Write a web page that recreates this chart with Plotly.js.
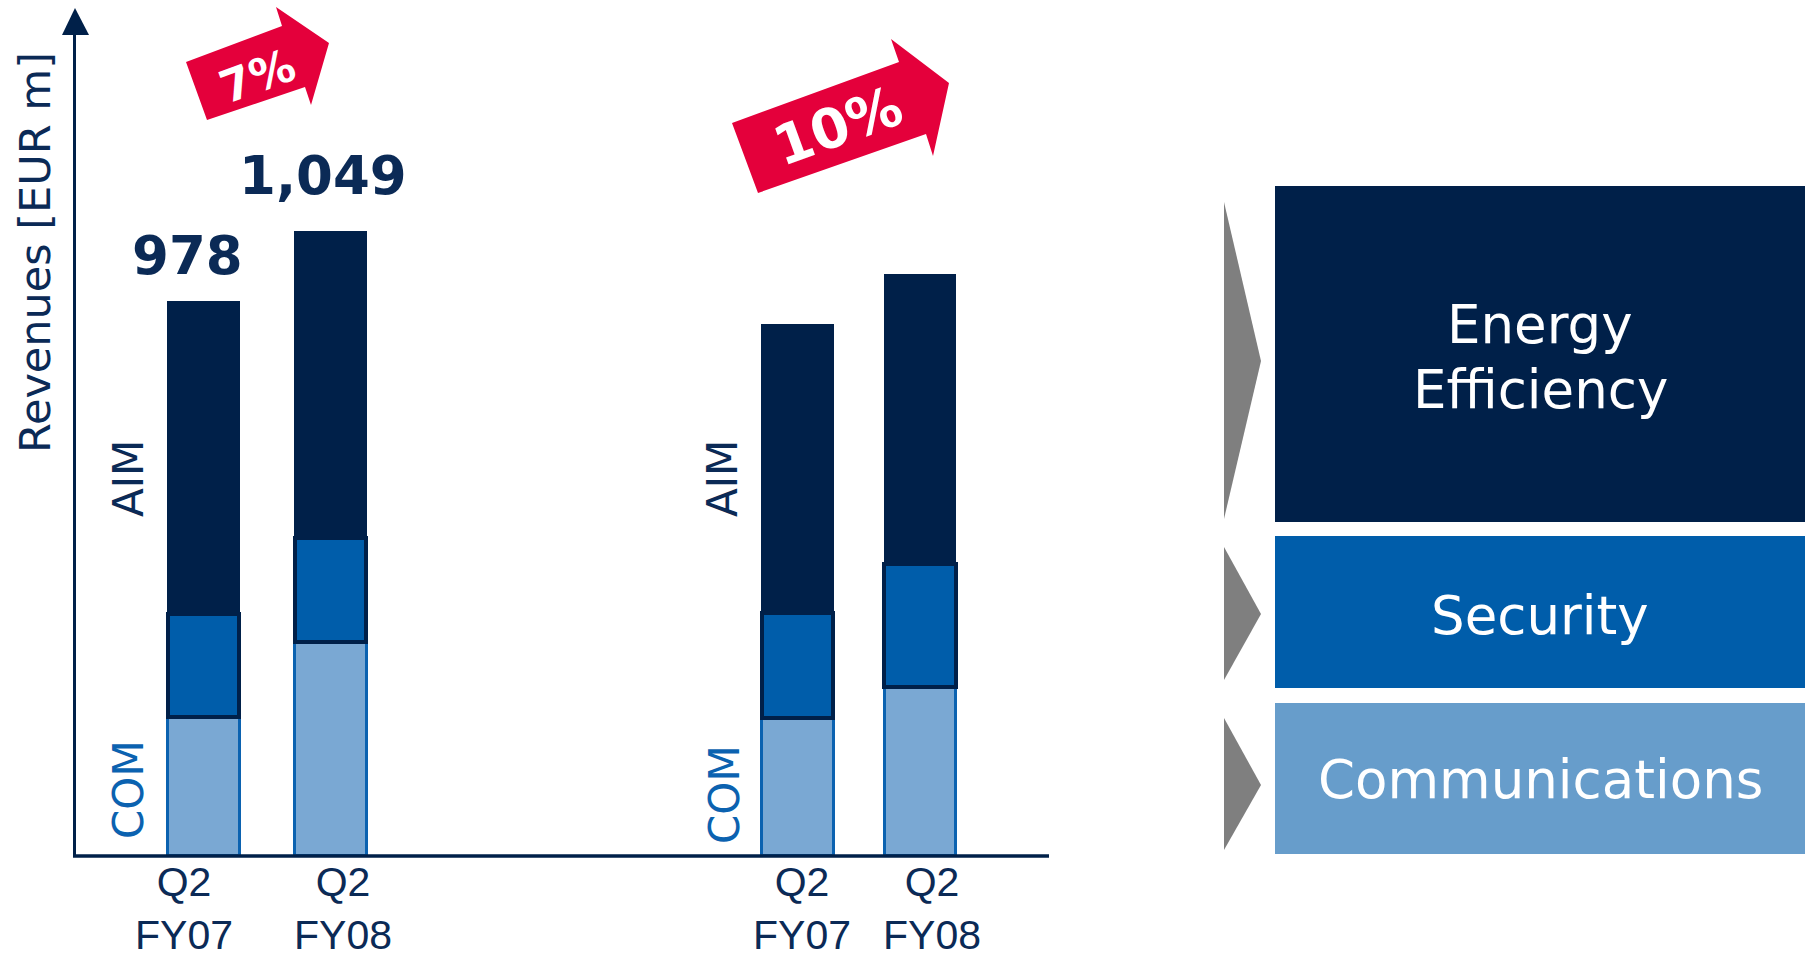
<!DOCTYPE html>
<html>
<head>
<meta charset="utf-8">
<script src="https://cdn.plot.ly/plotly-3.0.1.min.js"></script>
<style>
  html, body { margin: 0; padding: 0; background: #ffffff; }
  #chart { width: 1807px; height: 959px; }
</style>
</head>
<body>
<div id="chart"></div>
<script>
// ---------- data ----------
const categories = ["Q2 FY07", "Q2 FY08"];
const quarterLabels = ["Q2", "Q2"];
const yearLabels = ["FY07", "FY08"];
const group1Com = [244, 377];
const group1Sec = [182, 184];
const group1Aim = [552, 541];
const group2Com = [242, 297];
const group2Sec = [186, 218];
const group2Aim = [509, 511];
const totalLabels = ["978", "1,049"];
const growthLabels = ["7%", "10%"];
const segmentNames = ["Energy", "Efficiency", "Security", "Communications"];
const sideLabels = ["AIM", "COM"];
const axisTitle = "Revenues [EUR m]";

// ---------- styling ----------
const W = 1807, H = 959;
const px = x => x / W;
const py = y => 1 - y / H;
const NAVY = "#002049";
const SEC = "#005daa";
const COMC = "#7aa8d3";
const COMLINE = "#0b62b0";
const TEXTNAVY = "#0b2a56";
const RED = "#e4003b";
const GREY = "#7f7f7f";

function stackTraces(xa, com, sec, aim, w) {
  return [
    { type: "bar", x: categories, y: com, xaxis: xa, yaxis: "y", width: w,
      marker: { color: COMC, line: { color: COMLINE, width: 3 } }, name: "COM", hoverinfo: "skip" },
    { type: "bar", x: categories, y: sec, xaxis: xa, yaxis: "y", width: w,
      marker: { color: SEC, line: { color: NAVY, width: 4 } }, name: "Security", hoverinfo: "skip" },
    { type: "bar", x: categories, y: aim, xaxis: xa, yaxis: "y", width: w,
      marker: { color: NAVY, line: { color: NAVY, width: 1.5 } }, name: "AIM", hoverinfo: "skip" }
  ];
}

const traces = [
  ...stackTraces("x", group1Com, group1Sec, group1Aim, 0.56),
  ...stackTraces("x2", group2Com, group2Sec, group2Aim, 0.58)
];

const xBase = {
  type: "category", anchor: "y", showgrid: false, zeroline: false, showline: false,
  ticks: "", showticklabels: false, range: [-0.5, 1.5], fixedrange: true
};

function poly(pts) {
  return "M " + pts.map(p => px(p[0]) + "," + py(p[1])).join(" L ") + " Z";
}
function pathShape(pts, color) {
  return { type: "path", xref: "paper", yref: "paper", path: poly(pts),
           fillcolor: color, line: { width: 0 }, layer: "above" };
}
function rectShape(x0, y0, x1, y1, color) {
  return { type: "rect", xref: "paper", yref: "paper", x0: px(x0), x1: px(x1), y0: py(y1), y1: py(y0),
           fillcolor: color, line: { width: 0 }, layer: "below" };
}

const shapes = [
  { type: "line", xref: "paper", yref: "paper", x0: px(73), x1: px(1049), y0: py(856), y1: py(856),
    line: { color: NAVY, width: 3.5 }, layer: "above" },
  pathShape([[62, 35], [75, 8], [89, 35]], NAVY),
  pathShape([[186, 62], [282, 26], [276, 7], [329, 43], [311, 105], [305, 87], [207, 120]], RED),
  pathShape([[732, 123], [899, 62], [891, 39], [949, 83], [933, 156], [926, 134], [758, 193]], RED),
  rectShape(1275, 186, 1805, 522, NAVY),
  rectShape(1275, 536, 1805, 688, SEC),
  rectShape(1275, 703, 1805, 854, "#679dcb"),
  pathShape([[1224, 202], [1261, 361], [1224, 519]], GREY),
  pathShape([[1224, 547], [1261, 614], [1224, 680]], GREY),
  pathShape([[1224, 718], [1261, 785], [1224, 850]], GREY)
];

function ann(text, x, y, font, extra) {
  return Object.assign({ text: text, xref: "paper", yref: "paper", x: px(x), y: py(y),
    xanchor: "center", yanchor: "middle", showarrow: false, font: font }, extra || {});
}
const DV = "DejaVu Sans, Verdana, sans-serif";
const LS = "Liberation Sans, Arial, sans-serif";
const annotations = [
  ann(axisTitle, 35, 253, { family: DV, size: 43, color: TEXTNAVY }, { textangle: -90 }),
  ann(totalLabels[0], 187, 255, { family: DV, size: 53, color: TEXTNAVY, weight: "bold" }),
  ann(totalLabels[1], 323, 175, { family: DV, size: 53, color: TEXTNAVY, weight: "bold" }),
  ann(growthLabels[0], 257, 76, { family: DV, size: 45, color: "#ffffff", weight: "bold" }, { textangle: -20 }),
  ann(growthLabels[1], 838, 126, { family: DV, size: 55, color: "#ffffff", weight: "bold" }, { textangle: -20 }),
  ann(sideLabels[0], 128, 478, { family: DV, size: 42, color: TEXTNAVY }, { textangle: -90 }),
  ann(sideLabels[1], 128, 789, { family: DV, size: 42, color: COMLINE }, { textangle: -90 }),
  ann(sideLabels[0], 723, 479, { family: DV, size: 42, color: TEXTNAVY }, { textangle: -90 }),
  ann(sideLabels[1], 724, 795, { family: DV, size: 42, color: COMLINE }, { textangle: -90 }),
  ann(segmentNames[0], 1540, 324, { family: DV, size: 53, color: "#ffffff" }),
  ann(segmentNames[1], 1540, 390, { family: DV, size: 53, color: "#ffffff" }),
  ann(segmentNames[2], 1540, 615, { family: DV, size: 53, color: "#ffffff" }),
  ann(segmentNames[3], 1540, 779, { family: DV, size: 53, color: "#ffffff" })
];

// category labels (two lines), placed by the category axes
const labelShift = { x: [-20, 12], x2: [4, 12] };
["x", "x2"].forEach(xa => {
  categories.forEach((c, i) => {
    annotations.push({
      text: quarterLabels[i] + "<br>" + yearLabels[i],
      xref: xa, yref: "paper", x: c, y: 0, borderpad: 0,
      xanchor: "center", yanchor: "bottom", showarrow: false,
      font: { family: LS, size: 41, color: TEXTNAVY }, xshift: labelShift[xa][i]
    });
  });
});

const layout = {
  width: W, height: H,
  margin: { l: 0, r: 0, t: 0, b: 0, pad: 0 },
  paper_bgcolor: "#ffffff", plot_bgcolor: "rgba(0,0,0,0)",
  showlegend: false, barmode: "stack", hovermode: false,
  xaxis: Object.assign({}, xBase, { domain: [px(140), px(394)] }),
  xaxis2: Object.assign({}, xBase, { domain: [px(736.25), px(981.25)] }),
  yaxis: {
    domain: [py(855), py(34)], range: [0, 1452], anchor: "free", position: px(74),
    showgrid: false, zeroline: false, showticklabels: false, ticks: "",
    showline: true, linecolor: NAVY, linewidth: 3, fixedrange: true
  },
  shapes: shapes,
  annotations: annotations
};

Plotly.newPlot("chart", traces, layout, { displayModeBar: false, staticPlot: true });
</script>
</body>
</html>
